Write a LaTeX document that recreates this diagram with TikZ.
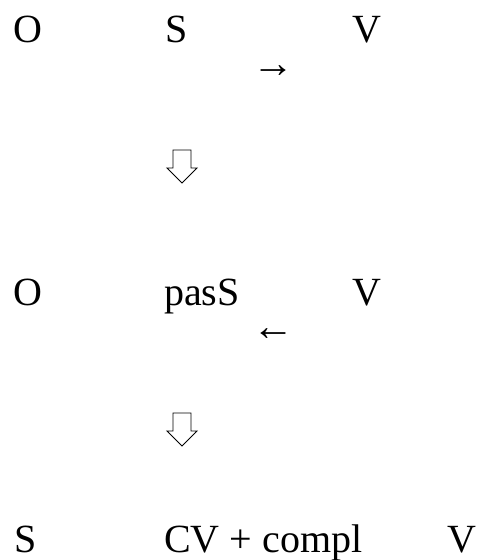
\documentclass[tikz,border=0pt]{standalone}
\usepackage{fontspec}
\setmainfont{Liberation Serif}
\tikzset{
  word/.style={anchor=base west, inner sep=0pt, font=\fontsize{40}{46}\selectfont},
  turn/.style={anchor=center, inner sep=0pt, font=\fontsize{42}{46}\selectfont},
  hollow/.style={draw=black, line width=0.9pt, line join=miter}
}

\begin{document}
\begin{tikzpicture}[x=1pt, y=-1pt]
  % Fixed frame (480 x 560)
  \path[use as bounding box] (0,0) rectangle (480,560);

  % First line: active order.
  \node[word] (oA) at (13,42) {O};
  \node[word] (sA) at (165,42) {S};
  \node[word] (vA) at (352,42) {V};
  \node[turn] (toright) at (273.5,72) {→};

  % Hollow step arrow.
  \draw[hollow] (173,150) -- (191,150) -- (191,168) -- (197,168)
    -- (182,183) -- (167,168) -- (173,168) -- cycle;

  % Second line: passive subject.
  \node[word] (oB) at (13,305) {O};
  \node[word] (sB) at (164,305) {pasS};
  \node[word] (vB) at (352,305) {V};
  \node[turn] (toleft) at (273.5,335) {←};

  % Hollow step arrow.
  \draw[hollow] (173,413) -- (191,413) -- (191,431) -- (197,431)
    -- (182,446) -- (167,431) -- (173,431) -- cycle;

  % Third line: result.
  \node[word] (sC) at (14,552) {S};
  \node[word] (cvC) at (164,552) {CV + compl};
  \node[word] (vC) at (447,552) {V};
\end{tikzpicture}
\end{document}
